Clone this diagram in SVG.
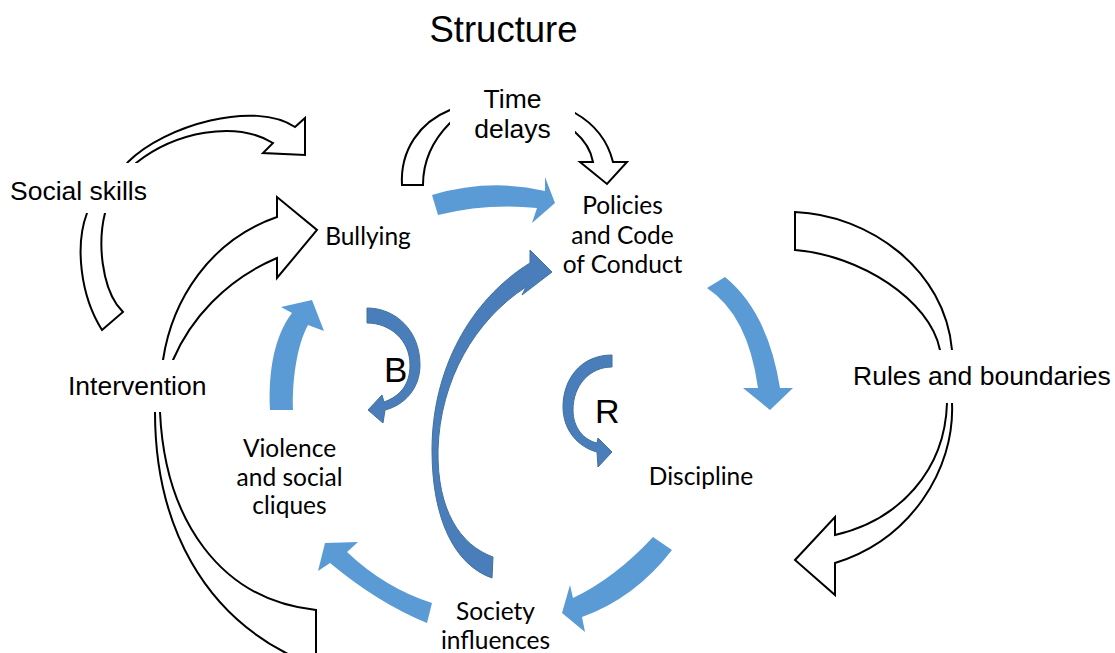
<svg xmlns="http://www.w3.org/2000/svg" width="1115" height="653" viewBox="0 0 1115 653">
<style>
.ol{fill:#fff;stroke:#000;stroke-width:2;stroke-linejoin:miter}
.lb{fill:#5b9bd5;stroke:none}
.db{fill:#4a7ebb;stroke:#41719c;stroke-width:1}
.bg{fill:#fff;stroke:none}
.ar{font-family:"Liberation Sans",Arial,sans-serif;font-size:26.5px;fill:#000}
.ca{font-family:Lato,"Open Sans",sans-serif;font-size:24.5px;fill:#000;text-anchor:middle}
</style>
<rect width="1115" height="653" fill="#fff"/>
<g id="connectors">
<path id="c-social-top" class="ol" d="M118,175 L128,162 C165,125 255,100 295,127 L305,118 L305,155 L263,153 L273,143 C235,120 175,132 136,163 L130,175 Z"/>
<path id="c-social-bottom" class="ol" d="M88,200 L87,213 C75,245 80,295 102,330 L123,312 L117,305 C103,285 97,245 105,213 L106,200 Z"/>
<path id="c-intervention-bullying" class="ol" d="M163,375 L163,360 C172,300 210,240 277,217 L277,197 L317,230 L277,278 L277,258 C225,280 190,320 173,360 L170,375 Z"/>
<path id="c-intervention-bottom" class="ol" d="M155,398 L155,412 C155,520 200,620 310,664 L316,664 L316,610 C220,600 165,520 160,412 L160,398 Z"/>
<path id="c-time-left" class="ol" d="M402,185 C400,150 420,122 450,110 L465,105 L465,120 L450,123 C433,140 423,160 423,185 Z"/>
<path id="c-time-right" class="ol" d="M560,108 L575,113 Q605,130 613,162 L627,162 L607,184 L580,162 L593,162 Q590,145 575,132 L560,130 Z"/>
<path id="c-rules-top" class="ol" d="M795,212 C870,215 945,270 952,350 L953,365 L940,365 L940,350 C930,300 860,255 795,250 Z"/>
<path id="c-rules-bottom" class="ol" d="M952,390 L952,403 C955,470 910,540 835,563 L835,595 L795,560 L835,517 L835,535 C900,520 945,470 947,403 L947,390 Z"/>
<path id="c-bullying-policies" class="lb" d="M432,195 Q490,178 545,191 L545,177 L555,203 L532,223 L537,208 Q487,203 438,215 Z"/>
<path id="c-policies-discipline" class="lb" d="M707,288 Q748,315 758,388 L743,388 L770,410 L793,388 L780,388 Q768,312 725,277 Z"/>
<path id="c-discipline-society" class="lb" d="M653,537 Q615,578 573,598 L570,585 L562,613 L585,632 L582,617 Q635,598 672,550 Z"/>
<path id="c-society-violence" class="lb" d="M432,603 Q385,588 347,552 L358,542 L325,543 L318,571 L330,563 Q378,603 427,623 Z"/>
<path id="c-violence-bullying" class="lb" d="M270,410 C268,370 275,335 292,313 L281,307 L312,300 L324,331 L308,325 C297,345 292,380 293,410 Z"/>
<path id="c-loop-b" class="db" d="M367,308 C395,308 420,330 420,365 C420,388 405,405 385,410 L383,423 L368,410 L382,395 L384,402 C400,396 410,385 410,365 C410,340 390,323 367,323 Z"/>
<path id="c-loop-r" class="db" d="M612,355 C580,355 563,380 563,407 C563,430 578,447 597,452 L598,467 L612,452 L598,438 L597,443 C584,440 573,428 573,410 C573,385 590,367 612,367 Z"/>
<path id="c-society-policies" class="db" d="M492,578 C455,565 432,520 432,450 C432,370 470,300 530,263 L530,250 L552,272 L522,295 L526,287 C475,320 440,380 438,450 C437,510 460,545 493,557 Z"/>
</g>
<g id="title"><text x="503.5" y="42" font-family="Liberation Sans, Arial, sans-serif" font-size="36.5" text-anchor="middle">Structure</text></g>
<g id="n-time-delays"><rect class="bg" x="450" y="84" width="125" height="62"/><text class="ar" x="512.5" y="108" text-anchor="middle">Time</text><text class="ar" x="512.5" y="138" text-anchor="middle">delays</text></g>
<g id="n-social-skills"><rect class="bg" x="0" y="163" width="160" height="50"/><text class="ar" x="10" y="200">Social skills</text></g>
<g id="n-intervention"><rect class="bg" x="60" y="360" width="155" height="52"/><text class="ar" x="68" y="395">Intervention</text></g>
<g id="n-rules"><rect class="bg" x="845" y="350" width="270" height="53"/><text class="ar" x="853" y="385">Rules and boundaries</text></g>
<g id="n-bullying"><text class="ca" x="368" y="245">Bullying</text></g>
<g id="n-policies"><text class="ca" x="622.5" y="214">Policies</text><text class="ca" x="622.5" y="243.5">and Code</text><text class="ca" x="622.5" y="273">of Conduct</text></g>
<g id="n-violence"><text class="ca" x="289.5" y="457">Violence</text><text class="ca" x="289.5" y="486">and social</text><text class="ca" x="289.5" y="514">cliques</text></g>
<g id="n-discipline"><text class="ca" x="701" y="485">Discipline</text></g>
<g id="n-society"><text class="ca" x="495.5" y="620">Society</text><text class="ca" x="495.5" y="649">influences</text></g>
<g id="n-b"><text x="384" y="382" font-family="Liberation Sans, Arial, sans-serif" font-size="35">B</text></g>
<g id="n-r"><text x="595" y="423" font-family="Liberation Sans, Arial, sans-serif" font-size="34">R</text></g>
</svg>
